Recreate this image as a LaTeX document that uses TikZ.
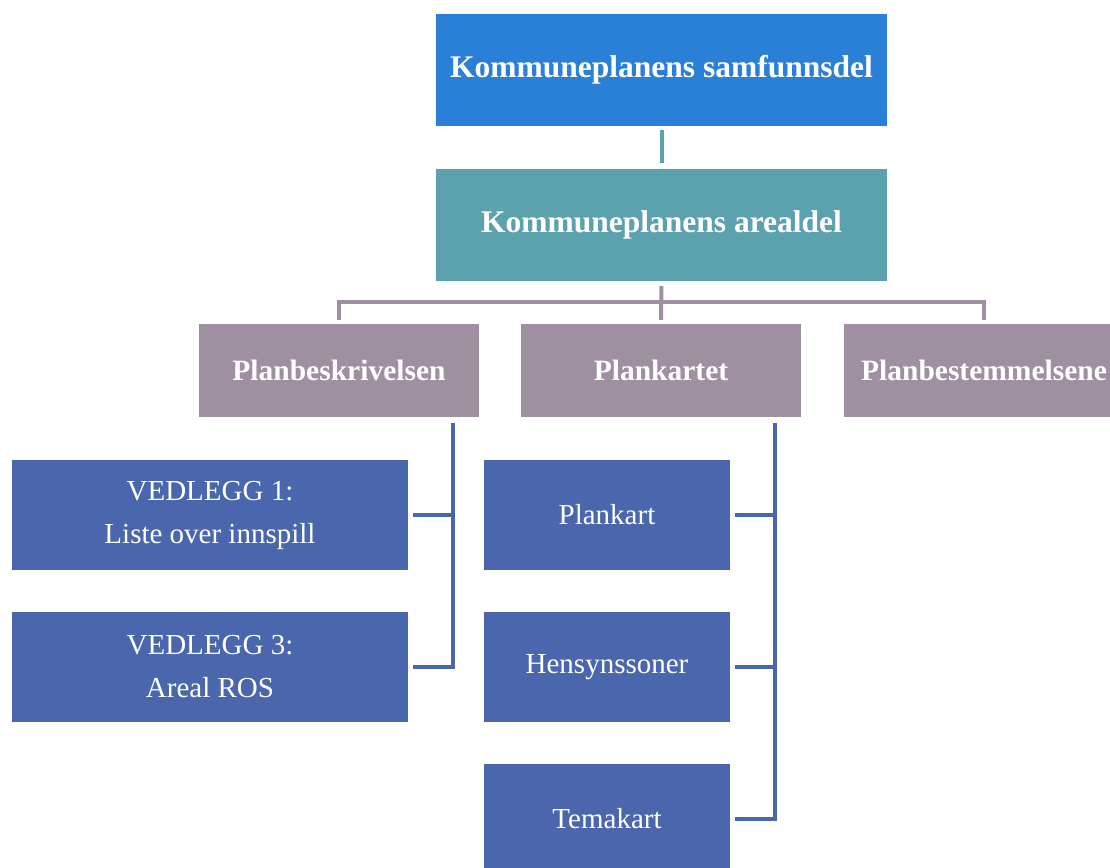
\documentclass[tikz,border=0pt]{standalone}
\usepackage{fontspec}
\setmainfont{Liberation Serif}
\usepackage{tikz}
\definecolor{topblue}{RGB}{42,128,215}
\definecolor{tealbox}{RGB}{91,162,174}
\definecolor{lilac}{RGB}{158,144,160}
\definecolor{darkblue}{RGB}{74,103,174}
\newcommand{\bigfont}{\fontsize{31.5}{38}\selectfont\bfseries}
\newcommand{\midfont}{\fontsize{29.5}{36}\selectfont\bfseries}
\newcommand{\smallfont}{\fontsize{29}{43}\selectfont}

\begin{document}
\begin{tikzpicture}[x=1pt,y=-1pt,
  box/.style={rectangle,inner sep=0pt,text=white,align=center},
  topbox/.style={box,minimum width=451pt,minimum height=112pt,font=\bigfont},
  midbox/.style={box,fill=lilac,minimum width=280pt,minimum height=93pt,font=\midfont},
  subbox/.style={box,fill=darkblue,minimum height=110pt,font=\smallfont},
  tline/.style={draw=tealbox,line width=4pt},
  pline/.style={draw=lilac,line width=4pt},
  bline/.style={draw=darkblue,line width=3.5pt}]
\clip (0,0) rectangle (1110,867);
%top part
\node[topbox,fill=topblue] (samfunn) at (661.5,70) {Kommuneplanens samfunnsdel};
\node[topbox,fill=tealbox] (areal) at (661.5,225) {Kommuneplanens arealdel};
\draw[tline,shorten <=4pt,shorten >=6pt] (samfunn.south) -- (areal.north);
%second row
\node[midbox] (beskriv) at (339,370.5) {Planbeskrivelsen};
\node[midbox] (kartet) at (661,370.5) {Plankartet};
\node[midbox] (bestem) at (984,370.5) {Planbestemmelsene};
\draw[pline,shorten <=5pt,shorten >=4pt] (areal.south) -- (kartet.north);
\draw[pline,shorten <=4pt,shorten >=4pt] (beskriv.north) -- ++(0,-22) -| (bestem.north);
%attachments
\node[subbox,minimum width=396pt] (vedl1) at (210,515) {VEDLEGG 1:\\Liste over innspill};
\node[subbox,minimum width=396pt] (vedl3) at (210,667) {VEDLEGG 3:\\Areal ROS};
\coordinate (bk) at ([xshift=-26pt]beskriv.south east);
\draw[bline,shorten <=6pt] (bk) |- ([xshift=5pt]vedl3.east);
\draw[bline,shorten >=-2pt] ([xshift=5pt]vedl1.east) -- (vedl1.east -| bk);
%map parts
\node[subbox,minimum width=246pt] (plankart) at (607,515) {Plankart};
\node[subbox,minimum width=246pt] (hensyn) at (607,667) {Hensynssoner};
\node[subbox,minimum width=246pt] (temakart) at (607,819) {Temakart};
\coordinate (kk) at ([xshift=-26pt]kartet.south east);
\draw[bline,shorten <=6pt] (kk) |- ([xshift=5pt]temakart.east);
\draw[bline,shorten >=-2pt] ([xshift=5pt]plankart.east) -- (plankart.east -| kk);
\draw[bline,shorten >=-2pt] ([xshift=5pt]hensyn.east) -- (hensyn.east -| kk);
\end{tikzpicture}
\end{document}
